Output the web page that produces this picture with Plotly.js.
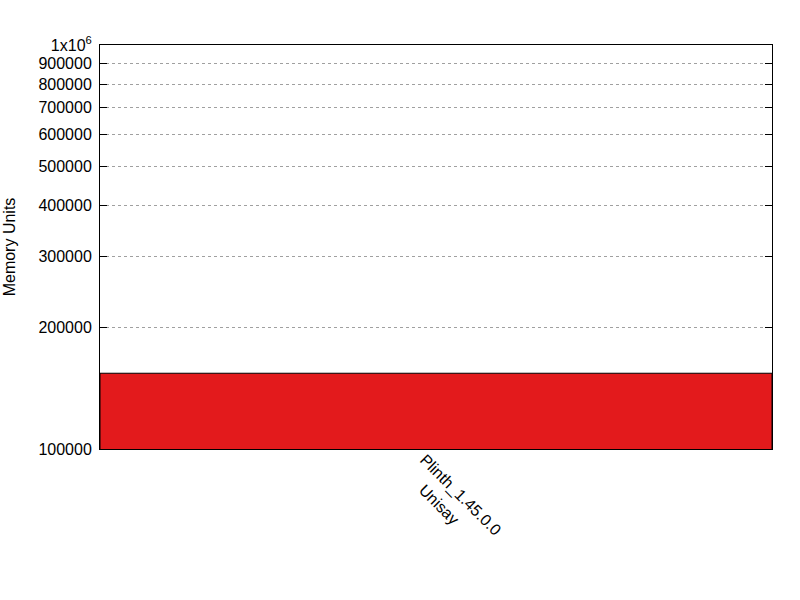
<!DOCTYPE html>
<html>
<head>
<meta charset="utf-8">
<script src="https://cdn.plot.ly/plotly-3.0.1.min.js"></script>
<style>
  html, body { margin: 0; padding: 0; background: #fff; }
  #chart { width: 800px; height: 600px; }
</style>
</head>
<body>
<div id="chart"></div>
<script>
// benchmark label (two lines) and measured memory
var categories = ['Plinth_1.45.0.0\nUnisay'];
var memoryUnits = [154000];

// y tick values and their labels
var yTickVals = [100000, 200000, 300000, 400000, 500000, 600000, 700000, 800000, 900000, 1000000];
var yTickText = ['100000', '200000', '300000', '400000', '500000', '600000', '700000', '800000', '900000', '1x10<sup>6</sup>'];

var data = [{
  type: 'bar',
  x: categories,
  y: memoryUnits,
  marker: { color: '#e31a1c', line: { color: '#000', width: 1 } },
  hoverinfo: 'none'
}];

// rotated category label, one annotation per line so both lines start flush
var labelAnnotations = [];
categories.forEach(function (cat) {
  cat.split('\n').forEach(function (line, i) {
    labelAnnotations.push({
      x: cat, xref: 'x',
      y: 0, yref: 'paper',
      text: line,
      textangle: 45,
      showarrow: false,
      xanchor: 'left', yanchor: 'top',
      xshift: -23, yshift: 1 - 30 * i,
      font: { size: 16 }
    });
  });
});

var layout = {
  width: 800,
  height: 600,
  margin: { l: 100, r: 28, t: 45, b: 151 },
  paper_bgcolor: '#fff',
  plot_bgcolor: '#fff',
  font: { family: 'Liberation Sans, Arial, sans-serif', size: 16, color: '#000' },
  showlegend: false,
  bargap: 0,
  annotations: labelAnnotations,
  xaxis: {
    type: 'category',
    range: [-0.5, 0.5],
    ticks: '',
    showticklabels: false,
    showline: true,
    linecolor: '#000',
    linewidth: 1,
    mirror: true,
    showgrid: false,
    zeroline: false
  },
  xaxis2: {
    overlaying: 'x',
    matches: 'x',
    side: 'top',
    type: 'category',
    range: [-0.5, 0.5],
    ticks: 'inside',
    ticklen: 6,
    tickcolor: '#000',
    showticklabels: false,
    showline: false,
    showgrid: false,
    zeroline: false
  },
  yaxis: {
    type: 'log',
    range: [5, 6],
    tickvals: yTickVals,
    ticktext: yTickText,
    ticks: 'inside',
    ticklen: 7,
    tickcolor: '#000',
    showline: true,
    linecolor: '#000',
    linewidth: 1,
    mirror: 'allticks',
    showgrid: true,
    gridcolor: '#a0a0a0',
    griddash: 'dot',
    gridwidth: 1,
    zeroline: false,
    ticklabelstandoff: 4,
    title: { text: 'Memory Units', standoff: 18, font: { size: 16 } }
  }
};

Plotly.newPlot('chart', data, layout, { displayModeBar: false, staticPlot: true });
</script>
</body>
</html>
